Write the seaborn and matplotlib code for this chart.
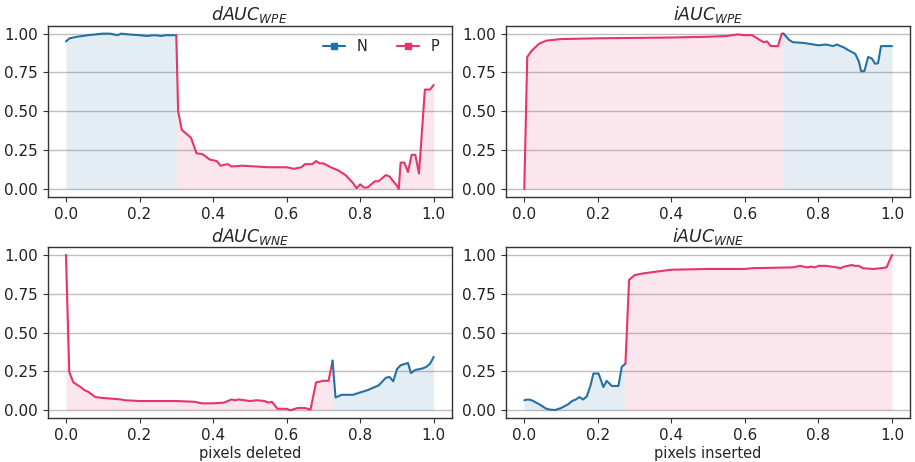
import numpy as np
import pandas as pd
import matplotlib
matplotlib.use("Agg")
import matplotlib.pyplot as plt
from matplotlib.lines import Line2D
import seaborn as sns

BLUE = "#2471a3"
PINK = "#e8336b"

# dAUC_WPE: N up to 0.30, P after
d_wpe_x = [0.0, 0.01, 0.03, 0.06, 0.1, 0.12, 0.14, 0.15, 0.17, 0.2, 0.22, 0.24, 0.26, 0.27, 0.3,
           0.305, 0.315, 0.33, 0.34, 0.355, 0.37, 0.38, 0.39, 0.41, 0.42, 0.44, 0.45, 0.48, 0.55,
           0.6, 0.62, 0.64, 0.65, 0.67, 0.68, 0.69, 0.7, 0.72, 0.74, 0.76, 0.78, 0.79, 0.8, 0.81,
           0.82, 0.84, 0.85, 0.87, 0.88, 0.9, 0.905, 0.91, 0.92, 0.93, 0.94, 0.95, 0.96, 0.976,
           0.99, 1.0]
d_wpe_y = [0.95, 0.97, 0.98, 0.99, 1.0, 1.0, 0.99, 1.0, 0.995, 0.99, 0.985, 0.99, 0.985, 0.99, 0.99,
           0.5, 0.38, 0.35, 0.33, 0.23, 0.225, 0.21, 0.19, 0.18, 0.15, 0.16, 0.145, 0.15, 0.14,
           0.14, 0.13, 0.14, 0.16, 0.16, 0.18, 0.165, 0.165, 0.14, 0.12, 0.09, 0.04, 0.005, 0.03, 0.01,
           0.01, 0.05, 0.05, 0.09, 0.08, 0.02, 0.0, 0.17, 0.17, 0.11, 0.22, 0.22, 0.1, 0.64,
           0.64, 0.67]
d_wpe_split = 0.3

# iAUC_WPE: P up to 0.705, N after
i_wpe_x = [0.0, 0.008, 0.02, 0.04, 0.06, 0.1, 0.2, 0.4, 0.5, 0.55, 0.58, 0.6, 0.62, 0.64, 0.65,
           0.66, 0.67, 0.69, 0.70, 0.705, 0.72, 0.73, 0.76, 0.8, 0.82, 0.84, 0.85, 0.87, 0.88,
           0.9, 0.91, 0.916, 0.925, 0.935, 0.945, 0.954, 0.962, 0.97, 1.0]
i_wpe_y = [0.0, 0.85, 0.89, 0.935, 0.955, 0.965, 0.97, 0.975, 0.98, 0.985, 0.995, 0.99, 0.99, 0.96, 0.945,
           0.95, 0.92, 0.92, 1.0, 1.0, 0.96, 0.945, 0.94, 0.925, 0.93, 0.92, 0.93, 0.91, 0.895,
           0.87, 0.82, 0.757, 0.76, 0.85, 0.84, 0.806, 0.81, 0.92, 0.92]
i_wpe_split = 0.705

# dAUC_WNE: P up to 0.725, N after
d_wne_x = [0.0, 0.009, 0.02, 0.03, 0.04, 0.05, 0.06, 0.08, 0.1, 0.15, 0.16, 0.2, 0.3, 0.35, 0.37,
           0.4, 0.43, 0.45, 0.46, 0.47, 0.5, 0.52, 0.54, 0.55, 0.56, 0.575, 0.6, 0.61, 0.63,
           0.65, 0.665, 0.68, 0.7, 0.714, 0.725, 0.733, 0.75, 0.78, 0.8, 0.82, 0.85, 0.87, 0.88,
           0.89, 0.9, 0.91, 0.93, 0.938, 0.95, 0.97, 0.98, 0.99, 1.0]
d_wne_y = [1.0, 0.247, 0.18, 0.165, 0.15, 0.13, 0.12, 0.085, 0.08, 0.07, 0.065, 0.06, 0.06, 0.055, 0.045,
           0.045, 0.05, 0.07, 0.065, 0.07, 0.06, 0.065, 0.06, 0.05, 0.055, 0.01, 0.01, 0.0, 0.015,
           0.015, 0.005, 0.18, 0.19, 0.19, 0.32, 0.083, 0.1, 0.1, 0.115, 0.13, 0.16, 0.21, 0.215,
           0.187, 0.265, 0.29, 0.305, 0.24, 0.26, 0.27, 0.28, 0.3, 0.344]
d_wne_split = 0.725

# iAUC_WNE: N up to 0.275, P after
i_wne_x = [0.0, 0.01, 0.02, 0.04, 0.06, 0.07, 0.084, 0.1, 0.12, 0.13, 0.14, 0.15, 0.16, 0.17, 0.18,
           0.188, 0.202, 0.215, 0.224, 0.238, 0.256, 0.265, 0.275, 0.285, 0.3, 0.32, 0.35, 0.4,
           0.5, 0.6, 0.62, 0.73, 0.75, 0.77, 0.78, 0.79, 0.8, 0.82, 0.85, 0.86, 0.87, 0.88, 0.89,
           0.9, 0.91, 0.92, 0.95, 0.97, 0.985, 1.0]
i_wne_y = [0.065, 0.07, 0.065, 0.04, 0.01, 0.005, 0.002, 0.015, 0.04, 0.06, 0.07, 0.085, 0.07, 0.09, 0.16,
           0.237, 0.237, 0.15, 0.19, 0.157, 0.157, 0.28, 0.3, 0.84, 0.87, 0.88, 0.89, 0.905,
           0.91, 0.91, 0.915, 0.92, 0.93, 0.92, 0.925, 0.92, 0.93, 0.93, 0.92, 0.915, 0.925, 0.93, 0.935,
           0.93, 0.93, 0.915, 0.91, 0.915, 0.92, 1.0]
i_wne_split = 0.275

panels = [
    (r"$dAUC_{WPE}$", d_wpe_x, d_wpe_y, d_wpe_split, (BLUE, PINK), ""),
    (r"$iAUC_{WPE}$", i_wpe_x, i_wpe_y, i_wpe_split, (PINK, BLUE), ""),
    (r"$dAUC_{WNE}$", d_wne_x, d_wne_y, d_wne_split, (PINK, BLUE), "pixels deleted"),
    (r"$iAUC_{WNE}$", i_wne_x, i_wne_y, i_wne_split, (BLUE, PINK), "pixels inserted"),
]

sns.set_style("ticks")
plt.rcParams["font.family"] = ["DejaVu Sans"]

fig, axes = plt.subplots(2, 2, figsize=(9.15, 4.62), dpi=100)
fig.subplots_adjust(left=0.052, right=0.995, top=0.944, bottom=0.095, wspace=0.133, hspace=0.295)

for ax, (title, xs, ys, split, cols, xlabel) in zip(axes.flat, panels):
    df = pd.DataFrame({"x": xs, "y": ys})
    first = df[df.x <= split]
    second = df[df.x >= split]
    for seg, c in zip([first, second], cols):
        ax.fill_between(seg.x, 0, seg.y, color=c, alpha=0.12, linewidth=0)
        sns.lineplot(data=seg, x="x", y="y", color=c, linewidth=1.5, ax=ax, sort=False)
    ax.set_title(title, fontsize=12.5, pad=4)
    ax.set_xlabel(xlabel, fontsize=10.5, labelpad=2)
    ax.set_ylabel("")
    ax.set_xticks([0.0, 0.2, 0.4, 0.6, 0.8, 1.0])
    ax.set_yticks([0.0, 0.25, 0.5, 0.75, 1.0])
    ax.set_xlim(-0.05, 1.05)
    ax.set_ylim(-0.05, 1.05)
    ax.yaxis.grid(True, color="#c0c0c0", linewidth=1)
    ax.tick_params(labelsize=11, length=3.5, color="#333333", labelcolor="#222222")
    for s in ax.spines.values():
        s.set_color("#333333")
        s.set_linewidth(1)

handles = [Line2D([], [], color=BLUE, marker="s", markersize=5, linewidth=1.5, label="N"),
           Line2D([], [], color=PINK, marker="s", markersize=5, linewidth=1.5, label="P")]
axes[0, 0].legend(handles=handles, ncol=2, frameon=False, loc="upper right",
                  fontsize=10.5, columnspacing=2.0, handlelength=1.5, borderaxespad=0.5)

fig.savefig("out.png", dpi=100)
